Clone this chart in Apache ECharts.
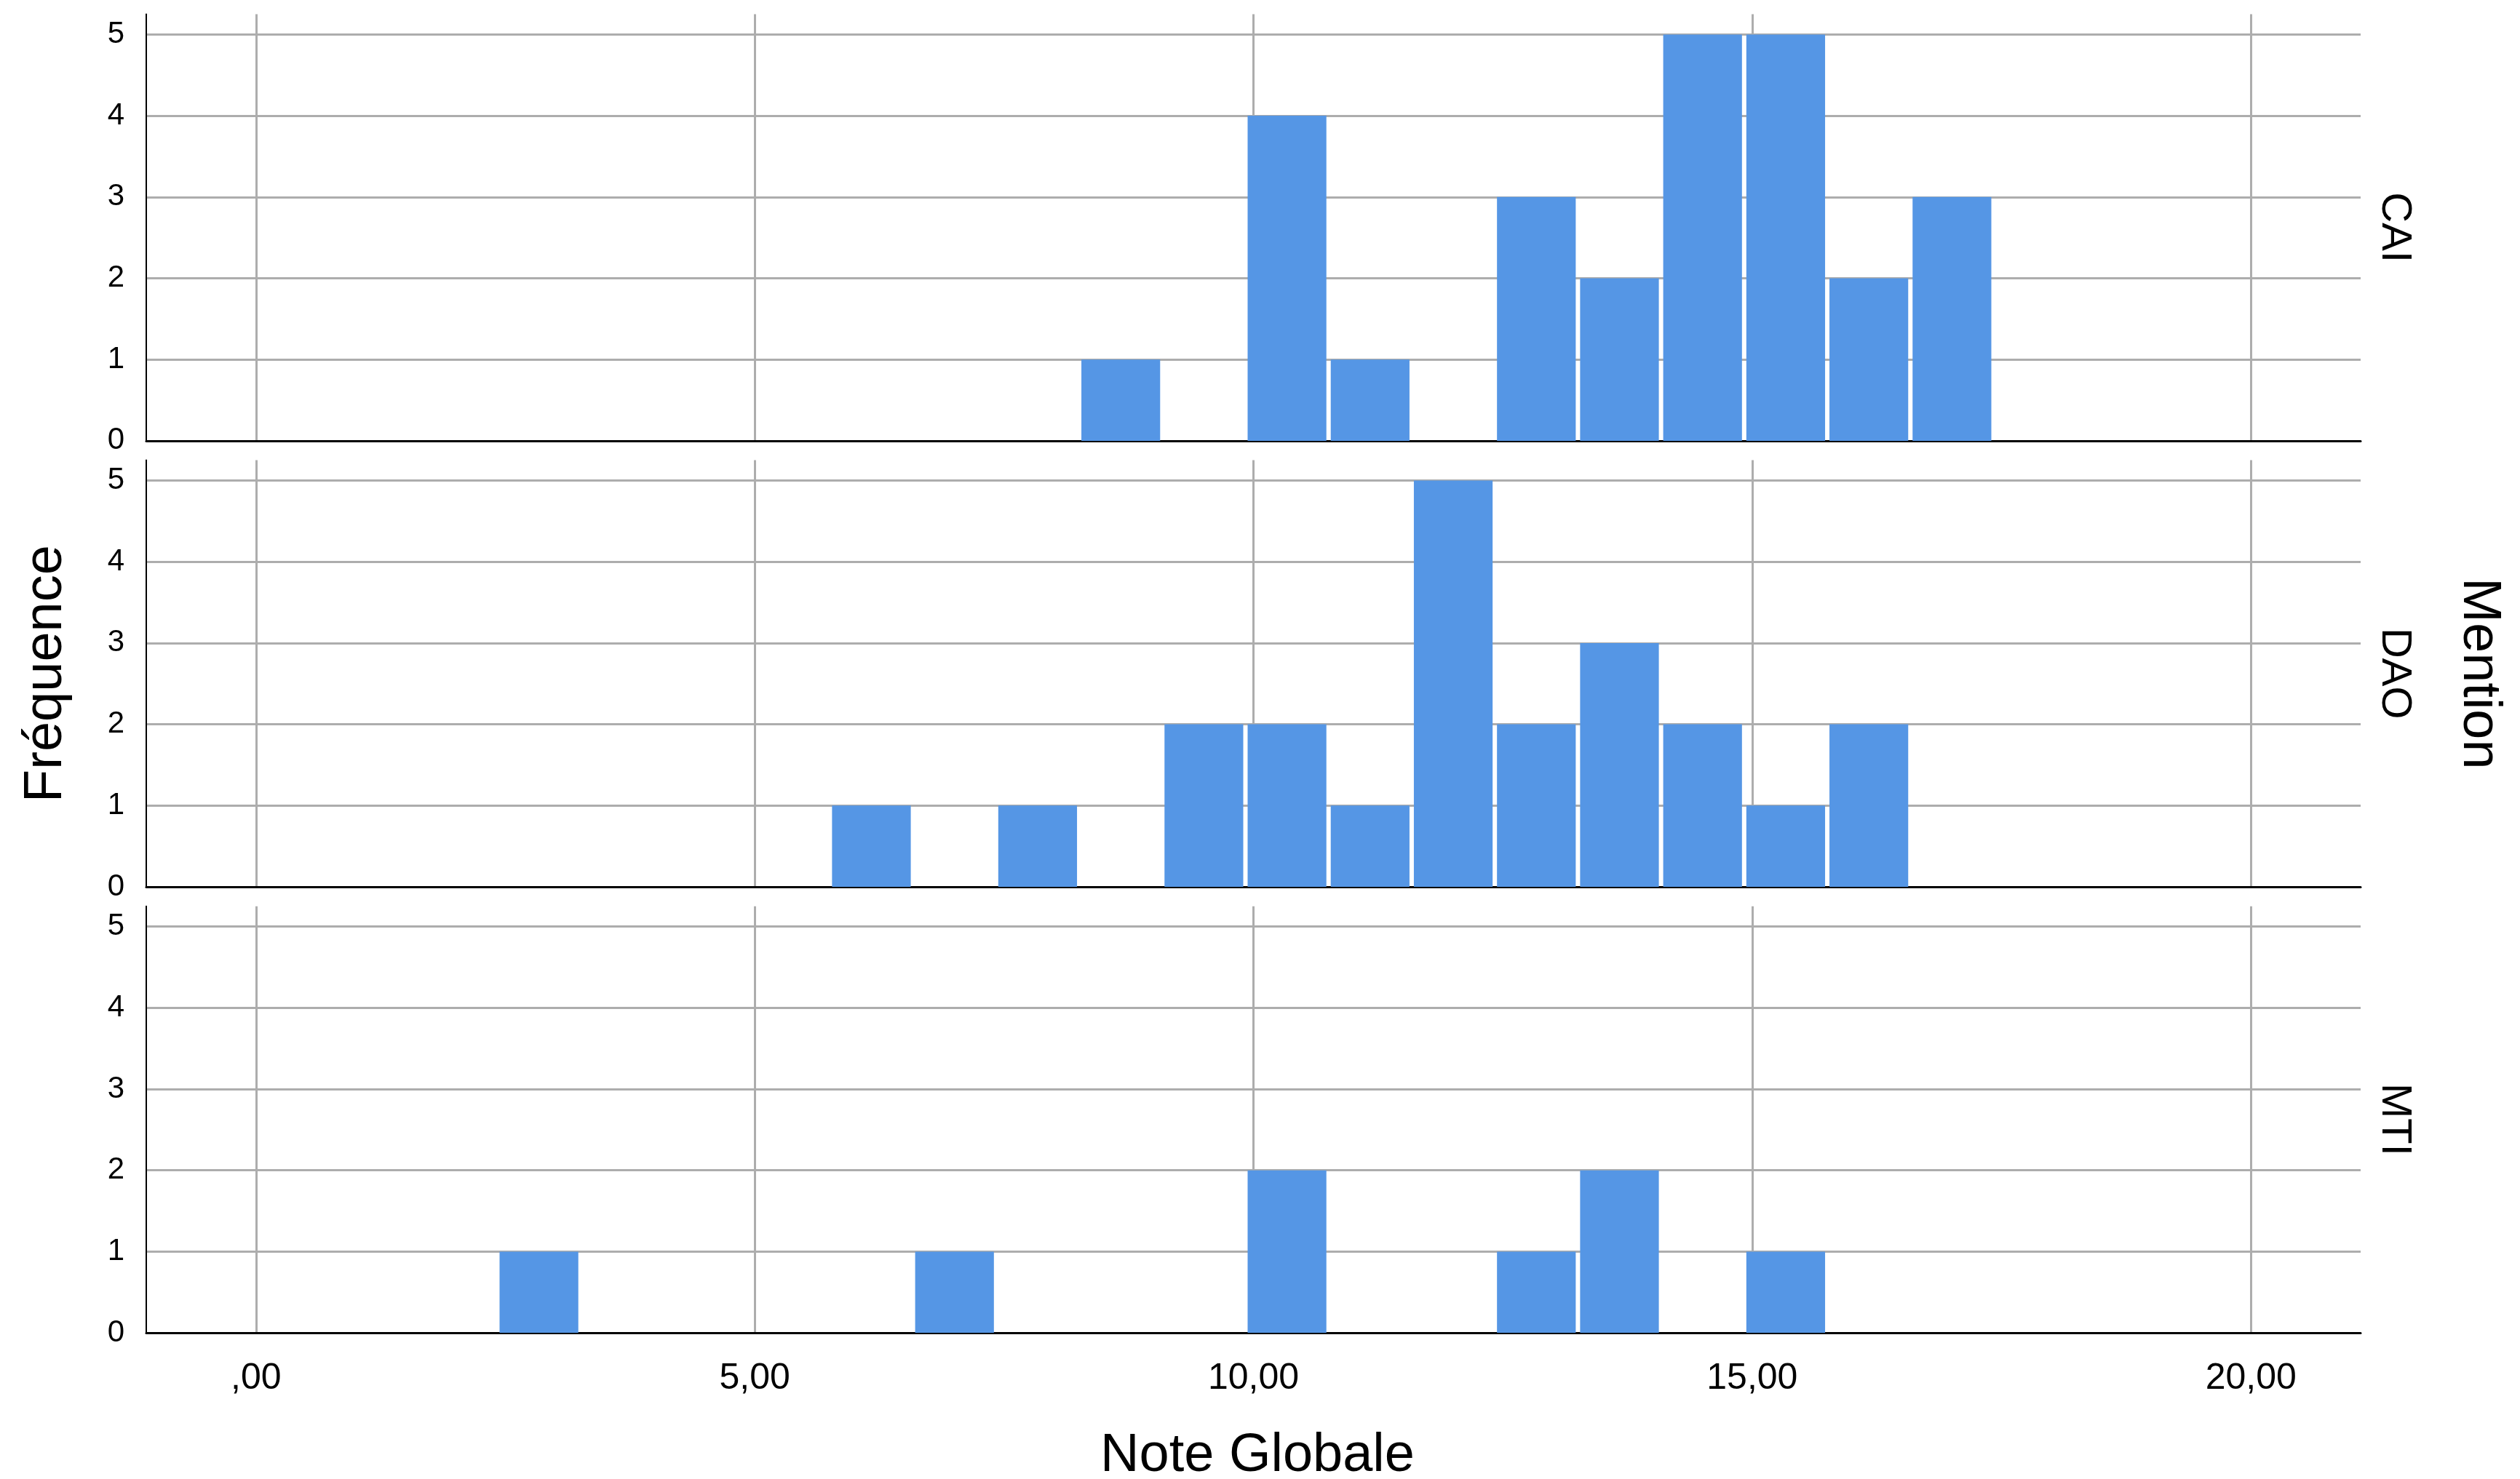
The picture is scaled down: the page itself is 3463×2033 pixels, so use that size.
<!DOCTYPE html>
<html>
<head>
<meta charset="utf-8">
<script src="https://cdn.jsdelivr.net/npm/echarts@6/dist/echarts.min.js"></script>
<style>html,body{margin:0;padding:0;background:#fff}#c{width:3463px;height:2033px}</style>
</head>
<body>
<div id="c"></div>
<script>
// ---- data ----
const groups = ['CAI', 'DAO', 'MTI'];
const binStart = 2.42;          // left edge of first bin (Note Globale)
const binWidth = 0.8333;        // bin width
const countsCAI = [0,0,0,0,0,0,0,1,0,4,1,0,3,2,5,5,2,3];
const countsDAO = [0,0,0,0,1,0,1,0,2,2,1,5,2,3,2,1,2,0];
const countsMTI = [1,0,0,0,0,1,0,0,0,2,0,0,1,2,0,1,0,0];
const xTickValues = [0, 5, 10, 15, 20];
const xTickLabels = [',00', '5,00', '10,00', '15,00', '20,00'];
const yTickValues = [0, 1, 2, 3, 4, 5];
const xTitle = 'Note Globale';
const yTitle = 'Fréquence';
const panelTitle = 'Mention';

const allCounts = [countsCAI, countsDAO, countsMTI];

// ---- layout ----
const FONT = 'Liberation Sans';
const BAR = '#5596e5';
const GRIDC = '#adadad';
const gridLeft = 201, gridRight = 219, gridH = 586.4;
const gridTops = [19.5, 632.6, 1245.7];

const grids = [], xAxes = [], yAxes = [], series = [], graphics = [];
groups.forEach((g, i) => {
  grids.push({left: gridLeft, right: gridRight, top: gridTops[i], height: gridH});
  const last = i === groups.length - 1;
  xAxes.push({
    type: 'value', gridIndex: i, min: -1.1, max: 21.1,
    axisLine: {show: true, onZero: false, lineStyle: {color: '#000', width: 3}},
    axisTick: {show: false, customValues: xTickValues},
    splitLine: {show: true, lineStyle: {color: GRIDC, width: 3}},
    axisLabel: {
      show: last, customValues: xTickValues, margin: 38,
      fontFamily: FONT, fontSize: 50, color: '#000',
      formatter: v => xTickLabels[xTickValues.indexOf(v)]
    }
  });
  yAxes.push({
    type: 'value', gridIndex: i, min: 0, max: 5.25,
    axisLine: {show: true, onZero: false, lineStyle: {color: '#000', width: 2}},
    axisTick: {show: false, customValues: yTickValues},
    splitLine: {show: true, lineStyle: {color: GRIDC, width: 3}},
    axisLabel: {
      customValues: yTickValues, margin: 30,
      fontFamily: FONT, fontSize: 42, color: '#000',
      formatter: v => String(v)
    }
  });
  const data = [];
  allCounts[i].forEach((c, k) => { if (c > 0) data.push([k, c]); });
  series.push({
    type: 'custom', xAxisIndex: i, yAxisIndex: i, z: 3,
    data: data,
    renderItem: (params, api) => {
      const k = api.value(0), c = api.value(1);
      const x0 = binStart + k * binWidth, x1 = x0 + binWidth;
      const pTop = api.coord([x0, c]);
      const pBot = api.coord([x1, 0]);
      return {
        type: 'rect',
        shape: {x: pTop[0] + 3, y: pTop[1], width: pBot[0] - pTop[0] - 6, height: pBot[1] - pTop[1]},
        style: {fill: BAR}
      };
    }
  });
  graphics.push({
    type: 'text', x: 3290, y: gridTops[i] + gridH / 2, rotation: -Math.PI / 2,
    style: {text: g, fontFamily: FONT, fontSize: 58, fill: '#000', align: 'center', verticalAlign: 'middle'}
  });
});

graphics.push({
  type: 'text', x: 64, y: 926, rotation: Math.PI / 2,
  style: {text: yTitle, fontFamily: FONT, fontSize: 74, fill: '#000', align: 'center', verticalAlign: 'middle'}
});
graphics.push({
  type: 'text', x: 3406, y: 926, rotation: -Math.PI / 2,
  style: {text: panelTitle, fontFamily: FONT, fontSize: 74, fill: '#000', align: 'center', verticalAlign: 'middle'}
});
graphics.push({
  type: 'text', x: 1728, y: 2002,
  style: {text: xTitle, fontFamily: FONT, fontSize: 74, fill: '#000', align: 'center', verticalAlign: 'middle'}
});

const chart = echarts.init(document.getElementById('c'), null, {renderer: 'canvas'});
chart.setOption({
  animation: false,
  backgroundColor: '#fff',
  grid: grids, xAxis: xAxes, yAxis: yAxes, series: series, graphic: graphics
});
</script>
</body>
</html>
